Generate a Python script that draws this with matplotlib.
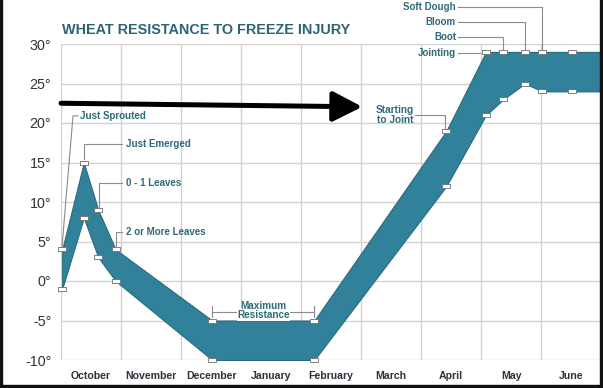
"""
wheat resistance to freeze injury band chart
"""

import matplotlib
matplotlib.use('Agg')
import matplotlib.pyplot as plt
from matplotlib.patches import FancyArrowPatch, Rectangle

# x positions in months from Oct 1
stage_x = [0.02, 0.38, 0.62, 0.91, 2.52, 4.22, 6.42, 7.08, 7.37, 7.73, 8.02, 8.52, 8.98]
upper = [4, 15, 9, 4, -5, -5, 19, 29, 29, 29, 29, 29, 29]
lower = [-1, 8, 3, 0, -10, -10, 12, 21, 23, 25, 24, 24, 24]
months = ['October', 'November', 'December', 'January', 'February',
          'March', 'April', 'May', 'June']
yticks = [-10, -5, 0, 5, 10, 15, 20, 25, 30]

TEAL = '#31819a'
LABEL = '#2e6a7a'
LEAD = '#8c8c8c'

W, H = 603, 388
fig = plt.figure(figsize=(W / 100, H / 100), dpi=100)
ax = fig.add_axes([61 / W, (H - 360) / H, (600 - 61) / W, (360 - 44) / H])

ax.set_xlim(0, 8.98)
ax.set_ylim(-10, 30)
for s in ax.spines.values():
    s.set_visible(False)

ax.set_xticks(range(9))
ax.set_xticklabels([])
ax.set_xticks([i + 0.5 for i in range(9)], minor=True)
ax.set_xticklabels(months, minor=True, fontsize=7.6, fontweight='bold',
                   color='#2b333b', family='Liberation Sans')
ax.set_yticks(yticks)
ax.set_yticklabels([f'{v}°' for v in yticks], fontsize=10.3, color='#333333',
                   family='Liberation Sans')
ax.tick_params(axis='both', which='both', length=0)
ax.tick_params(axis='x', which='minor', pad=8)
ax.tick_params(axis='y', pad=7)
ax.grid(True, which='major', color='#d2d2d2', lw=1.0, zorder=0)
ax.set_axisbelow(True)

# the band
ax.fill_between(stage_x, lower, upper, color=TEAL, edgecolor='#2a6b7e', lw=0.8, zorder=2)

# leader lines and labels
lk = dict(color=LEAD, lw=0.8, clip_on=False, zorder=3)
tk = dict(color=LABEL, fontsize=7, fontweight='bold', family='Liberation Sans',
          va='center', zorder=5)

ax.plot([0.017, 0.2, 0.28], [4.4, 20.9, 20.9], **lk)
ax.text(0.31, 20.9, 'Just Sprouted', **tk)

ax.plot([0.38, 0.38, 1.02], [15.4, 17.3, 17.3], **lk)
ax.text(1.08, 17.3, 'Just Emerged', **tk)

ax.plot([0.63, 0.63, 1.02], [9.4, 12.4, 12.4], **lk)
ax.text(1.08, 12.4, '0 - 1 Leaves', **tk)

ax.plot([0.92, 0.92, 1.02], [4.4, 6.2, 6.2], **lk)
ax.text(1.08, 6.2, '2 or More Leaves', **tk)

ax.plot([2.52, 2.52, 2.52, 4.22, 4.22, 4.22], [-3.2, -4.6, -3.9, -3.9, -3.2, -4.6], **lk)
ax.text(3.37, -3.75, 'Maximum\nResistance', color=LABEL, fontsize=7.2, fontweight='bold',
        family='Liberation Sans', ha='center', va='center', linespacing=0.95, zorder=5,
        bbox=dict(facecolor='white', edgecolor='none', pad=0.2))

ax.plot([5.9, 6.39, 6.39], [21.0, 21.0, 19.4], **lk)
ax.text(5.57, 21.0, 'Starting\nto Joint', ha='center', linespacing=0.95,
        **dict(tk, fontsize=7.3))

top = [('Soft Dough', 34.7, 8.02), ('Bloom', 32.8, 7.73), ('Boot', 30.9, 7.37)]
for name, yy, xm in top:
    ax.plot([6.62, xm, xm], [yy, yy, 29.4], **lk)
    ax.text(6.58, yy, name, ha='right', **tk)
ax.plot([6.62, 6.98], [28.9, 28.9], **lk)
ax.text(6.58, 28.9, 'Jointing', ha='right', **tk)

# markers
box = [(-1, -0.62), (1, -0.62), (1, 0.62), (-1, 0.62), (-1, -0.62)]
for ys in (upper, lower):
    ax.plot(stage_x[:-1], ys[:-1], ls='none', marker=box, ms=5.5, mfc='white',
            mec='#6e6e6e', mew=0.6, zorder=4, clip_on=False)

# big arrow
arrow = FancyArrowPatch((0.0, 22.5), (5.02, 22.05), arrowstyle='-|>,head_length=0.9,head_width=0.46',
                        mutation_scale=20, color='black', lw=3.6, shrinkA=0, shrinkB=0,
                        zorder=6, clip_on=False)
ax.add_patch(arrow)

fig.text(62 / W, (H - 30) / H, 'WHEAT RESISTANCE TO FREEZE INJURY', fontsize=10.4,
         fontweight='bold', color='#2d6474', family='Liberation Sans', va='center')

# dark frame at left, right, bottom
for r in [(0, 0, 2, H), (600, 0, 3, H), (0, 0, W, 3)]:
    fig.patches.append(Rectangle((r[0] / W, r[1] / H), r[2] / W, r[3] / H,
                                 transform=fig.transFigure, color='#111111', zorder=10))

fig.savefig('out.png', dpi=100)
